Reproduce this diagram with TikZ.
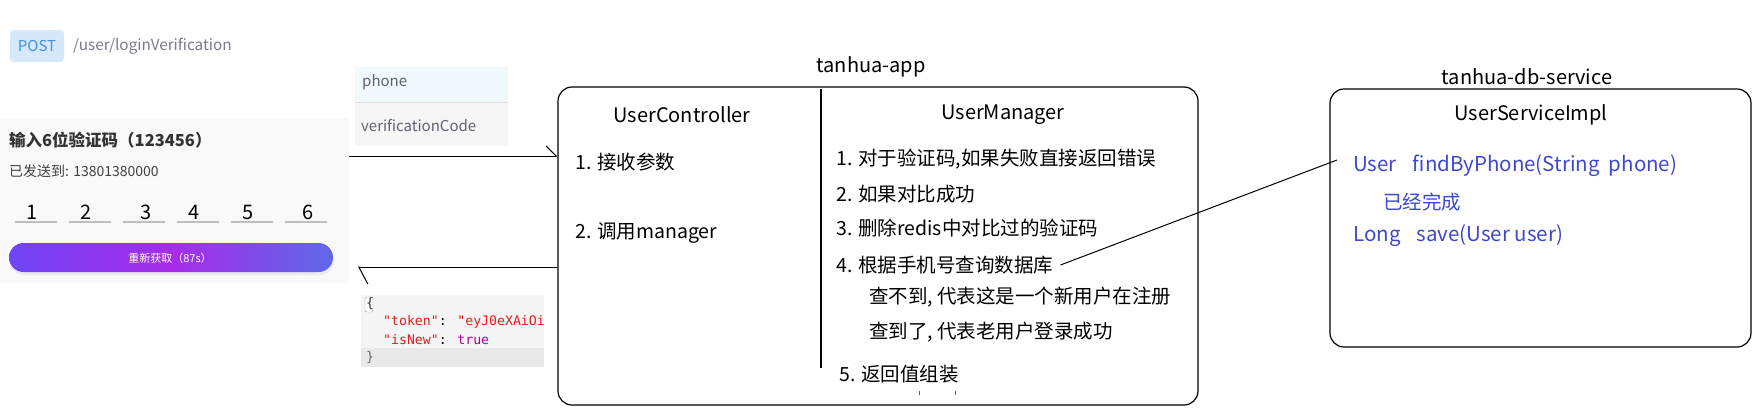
\documentclass[tikz,border=0pt]{standalone}
\usepackage{fontspec}
\setmainfont{Noto Sans CJK SC}
\newfontfamily\codefont{DejaVu Sans Mono}
\usetikzlibrary{arrows.meta,positioning}
\newcommand\px[1]{\fontsize{#1}{#1}\selectfont}

\definecolor{appblue}{RGB}{63,72,204}
\definecolor{postblue}{RGB}{64,145,220}
\definecolor{postfill}{RGB}{213,233,251}
\definecolor{urlgray}{RGB}{122,122,136}
\definecolor{paramgray}{RGB}{96,98,110}
\definecolor{rowblue}{RGB}{240,249,254}
\definecolor{rowgray}{RGB}{246,246,246}
\definecolor{panelgray}{RGB}{249,249,249}
\definecolor{jsonbg}{RGB}{245,245,245}
\definecolor{jsonband}{RGB}{233,233,233}
\definecolor{jsonred}{RGB}{226,30,30}
\definecolor{jsonpurple}{RGB}{175,0,160}
\definecolor{btnleft}{RGB}{111,69,245}
\definecolor{btnmid}{RGB}{166,44,232}
\definecolor{btnright}{RGB}{95,104,232}

\tikzset{
  item/.style={inner sep=0pt, anchor=west, font=\px{19.5}},
  head/.style={inner sep=0pt, font=\px{20}},
  svc/.style={inner sep=0pt, anchor=west, font=\px{20.5}, text=appblue},
  modbox/.style={draw, line width=1.2pt, rounded corners=14pt},
  reqline/.style={line width=1pt, -{Straight Barb[harpoon, length=10pt, width=20pt, line width=1pt]}},
  resline/.style={line width=1pt, -{Straight Barb[harpoon, length=9pt, width=34pt, line width=1pt]}},
  code/.style={inner sep=0pt, anchor=west, font=\codefont\px{13.2}}
}

\begin{document}
\begin{tikzpicture}[x=1pt, y=-1pt]
    \useasboundingbox (0,0) rectangle (1756,418);

    \node[fill=postfill, rounded corners=4pt, minimum width=54pt, minimum height=32pt, inner sep=0pt, text=postblue, font=\px{15}] (post) at (37,46) {POST};
    \node[inner sep=0pt, anchor=west, text=urlgray, font=\px{15.3}] (url) at (73,46) {/user/loginVerification};

    \fill[rowblue] (355,67) rectangle (508,102);
    \fill[rowgray] (355,102) rectangle (508,146);
    \draw[black!12] (355,102) -- (508,102);
    \node[inner sep=0pt, anchor=west, text=paramgray, font=\px{15}] (phone) at (362,82) {phone};
    \node[inner sep=0pt, anchor=west, text=paramgray, font=\px{15}] (code) at (361,126) {verificationCode};

    \node[fill=panelgray, minimum width=349pt, minimum height=165pt, inner sep=0pt, anchor=north west] (screen) at (0,118) {};
    \node[inner sep=0pt, anchor=west, text=black!80, font=\px{16.5}\bfseries] (title) at (9,140) {输入6位验证码（123456）};
    \node[inner sep=0pt, anchor=west, text=black!75, font=\px{14}] (sent) at (9,171) {已发送到: 13801380000};
    \foreach \i/\x in {1/32,2/86,3/146,4/194,5/248,6/308} {
        \draw[black!25, line width=1.3pt] ({15+54*(\i-1)},222) -- ({57+54*(\i-1)},222);
        \node[inner sep=0pt, font=\px{20}] (d\i) at (\x,212) {\i};
    }
    \fill[black!8, rounded corners=14.5pt] (10,245) rectangle (334,275);
    \shade[left color=btnleft, right color=btnright, middle color=btnmid, rounded corners=14.5pt] (9,243) rectangle (333,272);
    \node[inner sep=0pt, text=white, font=\px{11}] (btn) at (170,258) {重新获取（87s）};

    \node[fill=jsonbg, minimum width=183pt, minimum height=72pt, inner sep=0pt, anchor=north west] (json) at (361,295) {};
    \fill[jsonband] (361,348) rectangle (544,367);
    \begin{scope}
        \clip (361,295) rectangle (544,367);
        \draw[black!35, fill=white, rounded corners=1.5pt] (365,297) rectangle (373,312);
        \node[code, text=black!80] (lb) at (366,304) {\{};
        \node[code] (tok) at (383,322) {\textcolor{jsonred}{"token"}: \textcolor{jsonred}{"eyJ0eXAiOi}};
        \node[code] (new) at (383,340) {\textcolor{jsonred}{"isNew"}: \textcolor{jsonpurple}{true}};
        \node[code, text=black!60] (rb) at (366,358) {\}};
    \end{scope}

    \node[head] (apptitle) at (871,67) {tanhua-app};
    \node[modbox, minimum width=640pt, minimum height=318pt] (app) at (878,246) {};
    \draw[line width=1.2pt] (821,89) -- (821,368);
    \node[head] (ctrl) at (682,115) {UserController};
    \node[head] (mgr) at (1003,115) {UserManager};
    \node[item] (c1) at (575,162) {1. 接收参数};
    \node[item] (c2) at (575,233) {2. 调用manager};
    \node[item] (m1) at (836,159) {1. 对于验证码,如果失败直接返回错误};
    \node[item] (m2) at (836,194) {2. 如果对比成功};
    \node[item] (m3) at (836,228) {3. 删除redis中对比过的验证码};
    \node[item] (m4) at (836,265) {4. 根据手机号查询数据库};
    \node[item] (m4a) at (869,297) {查不到, 代表这是一个新用户在注册};
    \node[item] (m4b) at (869,332) {查到了, 代表老用户登录成功};
    \node[item] (m5) at (839,374) {5. 返回值组装};
    \draw[black!60, line width=1pt] (919,391) -- (919,395);
    \draw[black!60, line width=1pt] (955,391) -- (955,395);

    \node[head] (dbtitle) at (1527,77) {tanhua-db-service};
    \node[modbox, minimum width=421pt, minimum height=258pt] (db) at (1540.5,218) {};
    \node[head] (impl) at (1531,115) {UserServiceImpl};
    \node[svc] (find) at (1353,166) {User\hspace{16pt}findByPhone(String\hspace{9pt}phone)};
    \node[svc, font=\px{19.5}] (done) at (1383,202) {已经完成};
    \node[svc] (save) at (1353,236) {Long\hspace{16pt}save(User user)};

    \coordinate (in) at (0,156);
    \coordinate (ret) at (358,267);
    \draw[reqline] (screen.east |- in) -- (app.west |- in);
    \draw[resline] (app.west |- ret) -- (ret);
    \draw[line width=1pt] ([xshift=7pt]m4.east) -- ([shift={(-16,-6)}]find.west);
\end{tikzpicture}
\end{document}
